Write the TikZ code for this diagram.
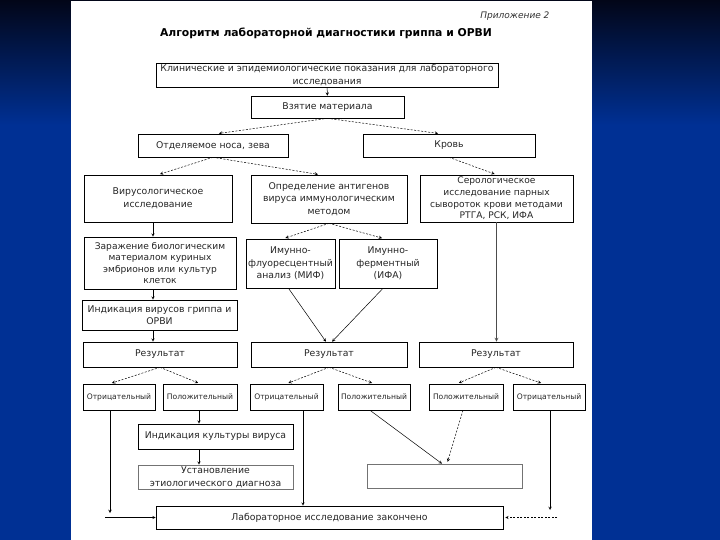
\documentclass[tikz,border=0pt]{standalone}
\usepackage{fontspec}
\setmainfont{DejaVu Sans}
\usetikzlibrary{calc}
\definecolor{slideblue}{RGB}{0,48,148}
\definecolor{slidetop}{RGB}{2,6,24}
\begin{document}
\begin{tikzpicture}[x=1pt,y=-1pt,>=stealth,
        blk/.style={draw,line width=.6pt,align=center,inner sep=0pt,text=black!85,
            font=\fontsize{9.3}{12.5}\selectfont},
        blkfour/.style={blk,font=\fontsize{9.1}{11.6}\selectfont},
        sml/.style={blk,font=\fontsize{7.6}{9}\selectfont},
        arr/.style={->,line width=.5pt},
        dsh/.style={->,line width=.5pt,dash pattern=on 2pt off 1.5pt,shorten >=2pt}]
                \useasboundingbox (0,0) rectangle (720,540);
                \shade[top color=slidetop,bottom color=slideblue] (0,0) rectangle (720,125);
                \fill[slideblue] (0,125) rectangle (720,540);
                \fill[white] (71,1) rectangle (592,540);
                \node[anchor=east,font=\fontsize{9}{10}\itshape,text=black!80] (app) at (553,16) {Приложение 2};
                \node[font=\fontsize{10.8}{12}\bfseries] (title) at (326,33) {Алгоритм лабораторной диагностики гриппа и ОРВИ};
                \node[blk,minimum width=342,minimum height=24] (clin) at (327,75)
                    {Клинические и эпидемиологические показания для лабораторного\\исследования};
                \node[blk,minimum width=153,minimum height=22] (take) at (327.5,107) {Взятие материала};
                \node[blk,minimum width=150,minimum height=23] (nose) at (213,145.5) {Отделяемое носа, зева};
                \node[blk,minimum width=172,minimum height=23] (blood) at (449,145.5) {Кровь};
                \node[blk,minimum width=148,minimum height=47] (viro) at (158,198.5) {Вирусологическое\\исследование};
                \node[blk,minimum width=156,minimum height=48] (antig) at (329,199)
                    {Определение антигенов\\вируса иммунологическим\\методом};
                \node[blkfour,minimum width=153,minimum height=47] (sero) at (496.5,198.5)
                    {Серологическое\\исследование парных\\сывороток крови методами\\РТГА, РСК, ИФА};
                \node[blkfour,minimum width=152,minimum height=52] (infect) at (160,263)
                    {Заражение биологическим\\материалом куриных\\эмбрионов или культур\\клеток};
                \node[blk,minimum width=89,minimum height=49] (mif) at (290.5,263.5) {Имунно-\\флуоресцентный\\анализ (МИФ)};
                \node[blk,minimum width=98,minimum height=49] (ifa) at (388,263.5) {Имунно-\\ферментный\\(ИФА)};
                \node[blk,minimum width=155,minimum height=30] (indic) at (159.5,315) {Индикация вирусов гриппа и\\ОРВИ};
                \node[blk,minimum width=154,minimum height=25] (res1) at (160,354.5) {Результат};
                \node[blk,minimum width=156,minimum height=25] (res2) at (329,354.5) {Результат};
                \node[blk,minimum width=154,minimum height=25] (res3) at (496,354.5) {Результат};
                \node[sml,minimum width=72,minimum height=26] (neg1) at (119,397) {Отрицательный};
                \node[sml,minimum width=74,minimum height=26] (pos1) at (200,397) {Положительный};
                \node[sml,minimum width=73,minimum height=26] (neg2) at (286.5,397) {Отрицательный};
                \node[sml,minimum width=72,minimum height=26] (pos2) at (374,397) {Положительный};
                \node[sml,minimum width=74,minimum height=26] (pos3) at (466,397) {Положительный};
                \node[sml,minimum width=72,minimum height=26] (neg3) at (549,397) {Отрицательный};
                \node[blk,minimum width=155,minimum height=25] (cult) at (215.5,436.5) {Индикация культуры вируса};
                \node[blk,draw=black!55,minimum width=155,minimum height=24] (etio) at (215.5,477)
                    {Установление\\этиологического диагноза};
                \node[blk,draw=black!55,minimum width=155,minimum height=24] (blank) at (444.5,476) {};
                \node[blk,minimum width=347,minimum height=23] (done) at (329.5,517.5) {Лабораторное исследование закончено};
                \coordinate (l0) at (110,513);
                \coordinate (l1) at (105,517.5);
                \coordinate (r0) at (550,510);
                \coordinate (r1) at (557,517.5);
                \draw[arr] (clin) -- (take);
                \draw[dsh] (take.south) -- ([xshift=4pt]nose.north);
                \draw[dsh] (take.south) -- ([xshift=-9pt]blood.north);
                \draw[dsh] (nose.south) -- (viro.north);
                \draw[dsh] (nose.south) -- ([xshift=-9pt]antig.north);
                \draw[dsh] (blood.south) -- (sero.north);
                \draw[dsh] (antig.south) -- ([xshift=-7pt]mif.north);
                \draw[dsh] (antig.south) -- ([xshift=-4pt]ifa.north);
                \draw[arr] ([xshift=-5pt]viro.south) -- ([xshift=-5pt]viro.south |- infect.north);
                \draw[arr] ([xshift=-7pt]infect.south) -- ([xshift=-7pt]infect.south |- indic.north);
                \draw[arr] ([xshift=-6.5pt]indic.south) -- ([xshift=-6.5pt]indic.south |- res1.north);
                \draw[arr] ([xshift=-2pt]mif.south) -- ([xshift=-3pt]res2.north);
                \draw[arr] ([xshift=-5pt]ifa.south) -- ([xshift=3pt]res2.north);
                \draw[arr,line width=.8pt,black!70] (sero.south) -- (sero.south |- res3.north);
                \draw[dsh] (res1.south) -- ([xshift=-9pt]neg1.north);
                \draw[dsh] (res1.south) -- (pos1.north);
                \draw[dsh] (res2.south) -- (neg2.north);
                \draw[dsh] (res2.south) -- (pos2.north);
                \draw[dsh] (res3.south) -- ([xshift=-9pt]pos3.north);
                \draw[dsh] (res3.south) -- ([xshift=-6pt]neg3.north);
                \draw[arr] ([xshift=-9pt]neg1.south) -- (l0);
                \draw[arr] (l1) -- (done.west);
                \draw[arr] ([xshift=-1pt]pos1.south) -- ([xshift=-1pt]pos1.south |- cult.north);
                \draw[arr] ([xshift=-16.5pt]cult.south) -- ([xshift=-16.5pt]cult.south |- etio.north);
                \draw[arr] ([xshift=16.5pt]neg2.south) -- ([xshift=16.5pt]neg2.south |- done.north);
                \draw[arr] ([xshift=-4pt]pos2.south) -- ([xshift=-2.5pt]blank.north);
                \draw[dsh] ([xshift=-3pt]pos3.south) -- ([xshift=2.5pt]blank.north);
                \draw[arr] ([xshift=1pt]neg3.south) -- (r0);
                \draw[dsh] (r1) -- (done.east);
\end{tikzpicture}
\end{document}
